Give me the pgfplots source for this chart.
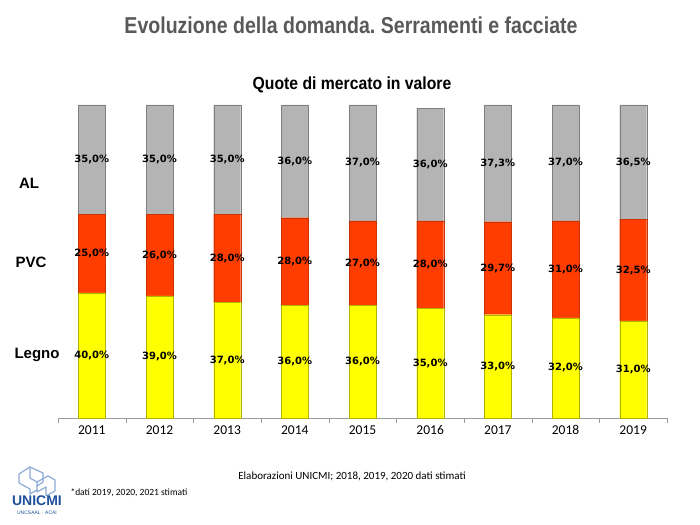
\documentclass[border=0pt]{standalone}
\usepackage{fontspec}
\setmainfont{Liberation Sans}
\usepackage{pgfplots}
\usepackage{pgfplotstable}
\pgfplotsset{compat=1.18}
\frenchspacing
\newfontfamily\narrowfont[FakeStretch=0.85]{Liberation Sans}
\newfontfamily\subfont[FakeStretch=0.9]{Liberation Sans}
\newfontfamily\calib{Carlito}
\newfontfamily\labfont{DejaVu Sans}
\definecolor{cLegno}{RGB}{255,255,0}
\definecolor{cPVC}{RGB}{255,61,0}
\definecolor{cAL}{RGB}{180,180,180}
\definecolor{titlegray}{RGB}{89,89,89}
\definecolor{logoblue}{RGB}{31,78,154}
\definecolor{logolight}{RGB}{140,170,215}
\pgfplotstableread{
x legno pvc al
0 40 25 35
1 39 26 35
2 37 28 35
3 36 28 36
4 36 27 37
5 35 28 36
6 33 29.7 37.3
7 32 31 37
8 31 32.5 36.5
}\shares
\begin{document}
\begin{tikzpicture}[x=1bp,y=1bp]
\path[use as bounding box] (0,0) rectangle (700,525);
% titles
\node[font=\narrowfont\bfseries\fontsize{23bp}{26bp}\selectfont, text=titlegray] at (351,500) {Evoluzione della domanda. Serramenti e facciate};
\node[font=\subfont\bfseries\fontsize{17.5bp}{20bp}\selectfont] at (352,440) {Quote di mercato in valore};
% side labels
\node[font=\bfseries\fontsize{15bp}{18bp}\selectfont] at (29,342) {AL};
\node[font=\bfseries\fontsize{15bp}{18bp}\selectfont] at (31,263) {PVC};
\node[font=\bfseries\fontsize{15bp}{18bp}\selectfont] at (37,170) {Legno};
% bars
\begin{axis}[
  at={(58bp,107bp)}, anchor=south west,
  scale only axis, width=609bp, height=313bp,
  xmin=-0.5, xmax=8.5, ymin=0, ymax=100,
  ybar stacked, bar width=27bp,
  axis y line=none, axis x line*=bottom,
  x axis line style={draw=gray!80},
  xtick={0,...,8},
  xticklabels={2011,2012,2013,2014,2015,2016,2017,2018,2019},
  major tick length=0pt,
  xticklabel style={font=\calib\fontsize{13.5bp}{16bp}\selectfont, yshift=-4bp},
  extra x ticks={-0.5,0.5,...,8.5},
  extra x tick labels={},
  extra x tick style={major tick length=5bp, tick align=outside, tick style={draw=gray!80}},
  clip=false,
]
\addplot[fill=cLegno, draw=cLegno!70!black, line width=0.3pt] table[x=x,y=legno]{\shares};
\addplot[fill=cPVC, draw=cPVC!80!black, line width=0.3pt] table[x=x,y=pvc]{\shares};
\addplot[fill=cAL, draw=cAL!70!black, line width=0.3pt] table[x=x,y=al]{\shares};
\end{axis}
% labels
\begin{axis}[
  at={(58bp,107bp)}, anchor=south west,
  scale only axis, width=609bp, height=313bp,
  xmin=-0.5, xmax=8.5, ymin=0, ymax=100,
  hide axis, clip=false,
  nodes near coords={\pgfmathprintnumber[assume math mode=true,fixed,fixed zerofill,precision=1,use comma]{\pgfplotspointmeta}\%},
  every node near coord/.style={font=\labfont\bfseries\fontsize{10bp}{12bp}\selectfont, anchor=center, text=black},
  point meta=explicit,
]
\addplot[draw=none, mark=none] table[x=x, y expr=\thisrow{legno}/2, meta=legno]{\shares};
\addplot[draw=none, mark=none] table[x=x, y expr=\thisrow{legno}+\thisrow{pvc}/2, meta=pvc]{\shares};
\addplot[draw=none, mark=none] table[x=x, y expr=\thisrow{legno}+\thisrow{pvc}+\thisrow{al}/2, meta=al]{\shares};
\end{axis}
% footnotes
\node[font=\calib\fontsize{11bp}{13bp}\selectfont] at (352,49) {Elaborazioni UNICMI; 2018, 2019, 2020 dati stimati};
\node[font=\calib\fontsize{9.5bp}{11bp}\selectfont, anchor=west] at (67,32) {*dati 2019, 2020, 2021 stimati};
% logo
\begin{scope}[draw=logolight, line width=1.2pt, line join=round]
\draw (19,51) -- (30,58) -- (43,52) -- (43,43) -- (37,39);
\draw (30,58) -- (30,47) -- (37,43) -- (48,49) -- (55,45) -- (55,34) -- (46,29);
\draw (19,51) -- (19,42) -- (30,36) -- (30,31) -- (37,35);
\draw (37,43) -- (37,33) -- (46,38) -- (46,29);
\end{scope}
\node[inner sep=0pt, font=\bfseries\fontsize{14bp}{15bp}\selectfont, text=logoblue] at (37,24) {UNICMI};
\node[inner sep=0pt, font=\fontsize{5bp}{6bp}\selectfont, text=logoblue] at (37,12) {UNCSAAL · ACAI};
\end{tikzpicture}
\end{document}
